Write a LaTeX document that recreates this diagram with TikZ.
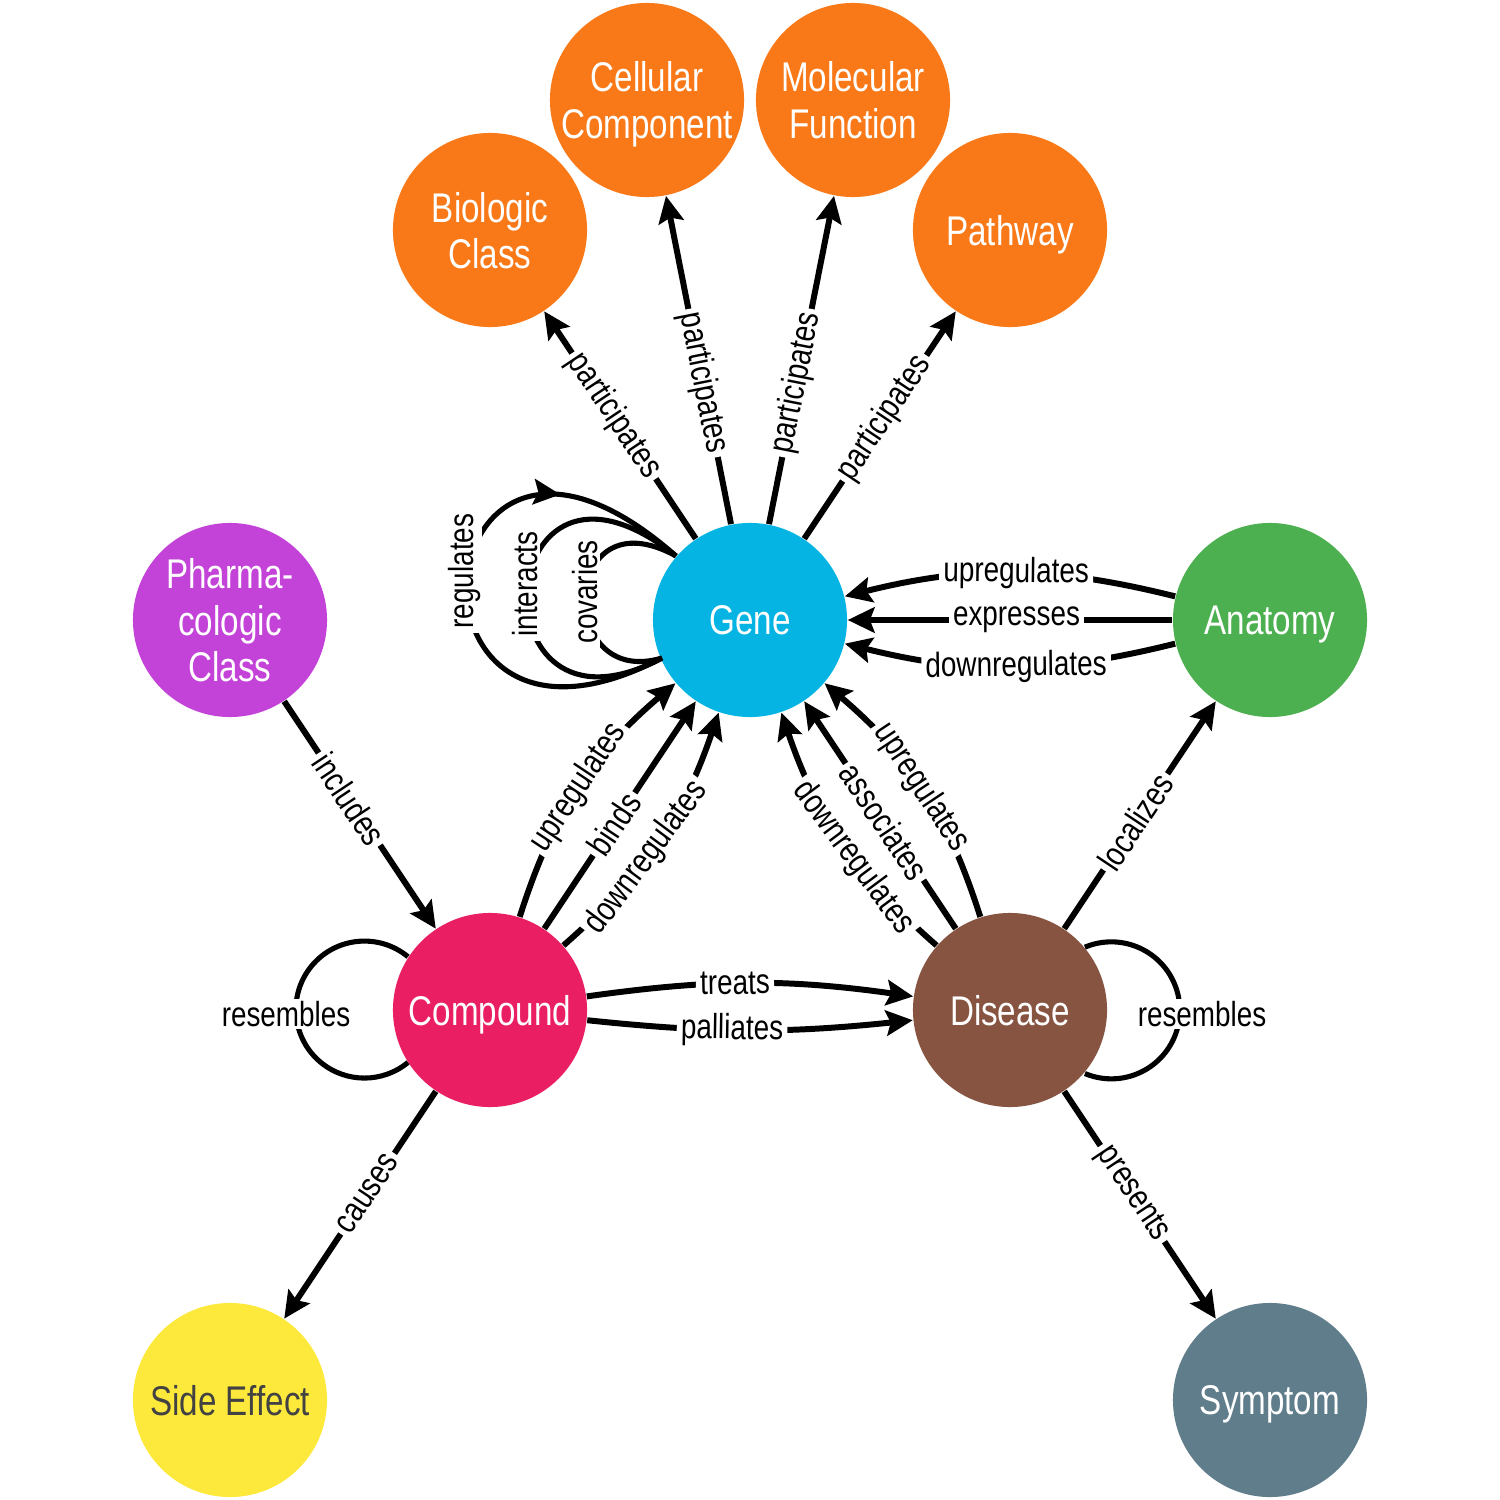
\documentclass[tikz,border=0pt]{standalone}
\usepackage{fontspec}
\setmainfont{Liberation Sans}[FakeStretch=0.8]
\usetikzlibrary{arrows.meta,decorations.markings}
\definecolor{corange}{HTML}{F97817}
\definecolor{ccyan}{HTML}{05B4E3}
\definecolor{cgreen}{HTML}{4CAF50}
\definecolor{cpurple}{HTML}{C342D8}
\definecolor{cpink}{HTML}{E91E63}
\definecolor{cbrown}{HTML}{875442}
\definecolor{cyellow}{HTML}{FDE93B}
\definecolor{cslate}{HTML}{607D8B}
\definecolor{cdark}{HTML}{424242}
\tikzset{
  ent/.style={circle, minimum size=1.94cm, inner sep=0pt, align=center, text=white,
    text depth=0pt, font=\fontsize{11.8pt}{13.1pt}\selectfont},
  edge/.style={line width=1.7pt, -{Stealth[length=7.6pt, width=7.2pt, inset=1.3pt]}},
  loopline/.style={line width=1.45pt},
  lbl/.style={font=\fontsize{9.9pt}{11pt}\selectfont, fill=white, inner xsep=1.2pt, inner ysep=0.5pt, sloped},
  flbl/.style={font=\fontsize{9.9pt}{11pt}\selectfont, fill=white, inner xsep=1.2pt, inner ysep=0.5pt},
}
\begin{document}
\begin{tikzpicture}[x=0.01cm, y=-0.01cm]
\useasboundingbox (0,0) rectangle (1500,1500);
% nodes
\node[ent, fill=ccyan] (gene) at (750,620) {Gene};
\node[ent, fill=cgreen] (anat) at (1270,620) {Anatomy};
\node[ent, fill=cpurple] (pharm) at (230,620) {Pharma-\\cologic\\Class};
\node[ent, fill=cpink] (comp) at (490,1010) {Compound};
\node[ent, fill=cbrown] (dis) at (1010,1010) {Disease};
\node[ent, fill=cyellow, text=cdark] (se) at (230,1400) {Side Effect};
\node[ent, fill=cslate] (sym) at (1270,1400) {Symptom};
\node[ent, fill=corange] (bc) at (490,230) {Biologic\\Class};
\node[ent, fill=corange] (cc) at (647,100) {Cellular\\Component};
\node[ent, fill=corange] (mf) at (853,100) {Molecular\\Function};
\node[ent, fill=corange] (pw) at (1010,230) {Pathway};
% gene participates
\draw[edge] (gene) -- node[lbl,pos=0.54]{participates} (bc);
\draw[edge] (gene) -- node[lbl,pos=0.43]{participates} (cc);
\draw[edge] (gene) -- node[lbl,pos=0.43]{participates} (mf);
\draw[edge] (gene) -- node[lbl,pos=0.53]{participates} (pw);
% gene self loops
\coordinate (gb) at (662,658);
\coordinate (gt) at (676,556);
\draw[loopline, postaction={decorate}, decoration={markings,
  mark=at position 0.755 with {\arrow{Stealth[length=7.6pt, width=7.2pt, inset=1.3pt]}}}]
  (gb) .. controls (380,805) and (420,330) .. (gt);
\draw[loopline] (gb) .. controls (470,760) and (490,408) .. (gt);
\draw[loopline] (gb) .. controls (555,690) and (560,492) .. (gt);
\node[flbl, rotate=90] (lreg) at (464,571) {regulates};
\node[flbl, rotate=90] (lint) at (525,584) {interacts};
\node[flbl, rotate=90] (lcov) at (585,592) {covaries};
% anatomy -> gene
\draw[edge] (anat) to[bend right=14] node[lbl,pos=0.48]{upregulates} (gene);
\draw[edge] (anat) -- node[lbl,pos=0.48]{expresses} (gene);
\draw[edge] (anat) to[bend left=14] node[lbl,pos=0.48]{downregulates} (gene);
% compound -> gene
\draw[edge] (comp) to[bend left=16] node[lbl,pos=0.5]{upregulates} (gene);
\draw[edge] (comp) -- node[lbl,pos=0.46]{binds} (gene);
\draw[edge] (comp) to[bend right=15] node[lbl,pos=0.42]{downregulates} (gene);
% disease -> gene
\draw[edge] (dis) to[bend right=16] node[lbl,pos=0.5]{upregulates} (gene);
\draw[edge] (dis) -- node[lbl,pos=0.47]{associates} (gene);
\draw[edge] (dis) to[bend left=15] node[lbl,pos=0.42]{downregulates} (gene);
% others
\draw[edge] (pharm) -- node[lbl,pos=0.43]{includes} (comp);
\draw[edge] (comp) -- node[lbl,pos=0.45]{causes} (se);
\draw[edge] (dis) -- node[lbl,pos=0.47]{localizes} (anat);
\draw[edge] (dis) -- node[lbl,pos=0.45]{presents} (sym);
\draw[edge] (comp) to[bend left=8] node[lbl,pos=0.45]{treats} (dis);
\draw[edge] (comp) to[bend right=6] node[lbl,pos=0.44]{palliates} (dis);
% resembles loops
\draw[loopline] (comp.147) arc[start angle=-50.45, end angle=-309.55, radius=68.5];
\node[flbl] (lrc) at (286,1014) {resembles};
\draw[loopline] (dis.40.4) arc[start angle=-112.7, end angle=112.7, radius=68.5];
\node[flbl] (lrd) at (1202,1014) {resembles};
\end{tikzpicture}
\end{document}
